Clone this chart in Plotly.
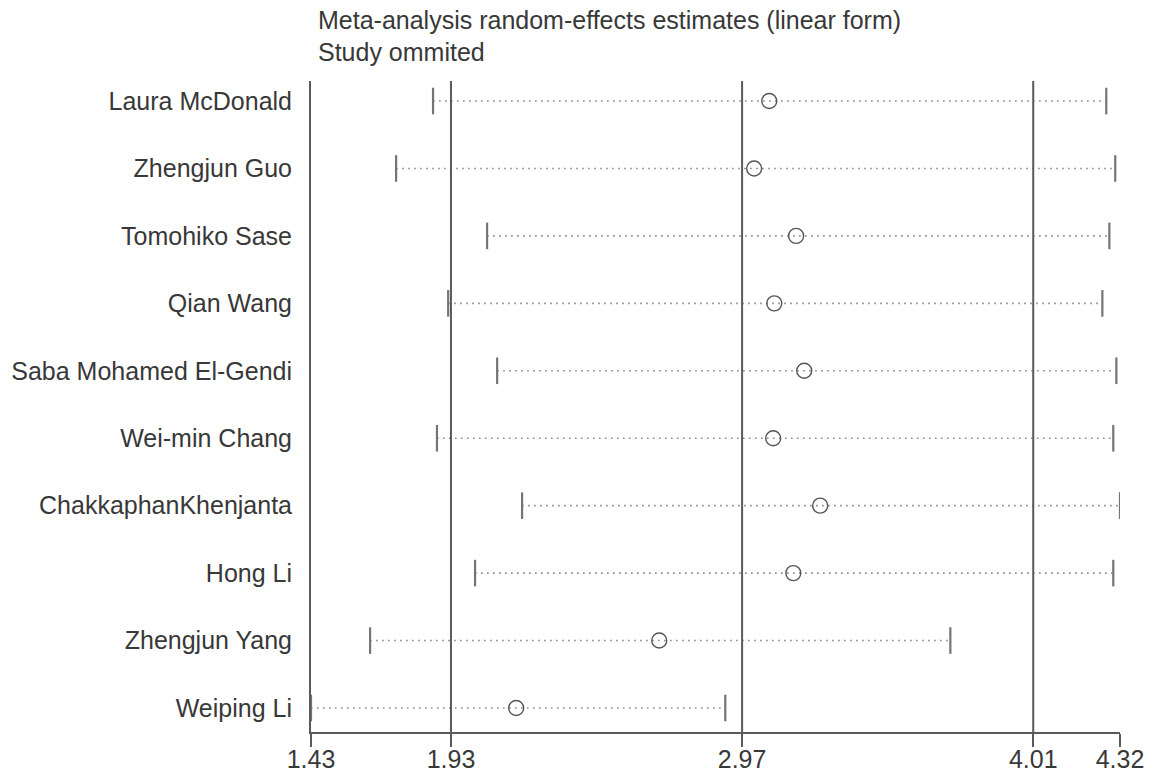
import plotly.graph_objects as go

studies = ["Laura McDonald", "Zhengjun Guo", "Tomohiko Sase", "Qian Wang",
           "Saba Mohamed El-Gendi", "Wei-min Chang", "ChakkaphanKhenjanta",
           "Hong Li", "Zhengjun Yang", "Weiping Li"]
estimate = [3.067, 3.013, 3.163, 3.085, 3.192, 3.081, 3.249, 3.153, 2.674, 2.163]
lower = [1.866, 1.734, 2.059, 1.920, 2.095, 1.880, 2.184, 2.016, 1.641, 1.43]
upper = [4.271, 4.303, 4.282, 4.257, 4.307, 4.296, 4.32, 4.296, 3.714, 2.910]
tick_vals = [1.43, 1.93, 2.97, 4.01, 4.32]
tick_text = ["1.43", "1.93", "2.97", "4.01", "4.32"]
ref_lines = [1.93, 2.97, 4.01]
title_lines = ["Meta-analysis random-effects estimates (linear form)", "Study ommited"]

ypos = list(range(len(studies)))
FONT = "Liberation Sans, Arial, sans-serif"
TXT = "#383838"
AX = "#5a5a5a"
DOT = "#8a8a8a"

fig = go.Figure()

# dotted CI lines
for i in ypos:
    fig.add_trace(go.Scatter(
        x=[lower[i], upper[i]], y=[i, i], mode="lines",
        line=dict(color=DOT, width=1.6, dash="1.6px,4.4px"),
        hoverinfo="skip", showlegend=False))

# caps
fig.add_trace(go.Scatter(
    x=lower + upper, y=ypos + ypos, mode="markers",
    marker=dict(symbol="line-ns", size=19, line=dict(color="#747474", width=2.2)),
    hoverinfo="skip", showlegend=False))

# point estimates
fig.add_trace(go.Scatter(
    x=estimate, y=ypos, mode="markers",
    marker=dict(symbol="circle-open", size=15, color="#555555", line=dict(width=1.4)),
    showlegend=False))

for v in ref_lines:
    fig.add_shape(type="line", xref="x", yref="paper", x0=v, x1=v, y0=0, y1=1,
                  line=dict(color=AX, width=2), layer="above")

fig.update_xaxes(range=[1.43, 4.32], tickvals=tick_vals, ticktext=tick_text,
                 showgrid=False, zeroline=False, showline=True, linecolor=AX,
                 linewidth=2, ticks="outside", ticklen=13, tickwidth=2,
                 tickcolor=AX, ticklabelstandoff=-9,
                 tickfont=dict(family=FONT, size=25, color=TXT))
fig.update_yaxes(range=[len(studies) - 1 + 0.356, -0.297], tickvals=ypos,
                 ticktext=studies, showgrid=False, zeroline=False,
                 showline=True, linecolor=AX, linewidth=2, ticks="",
                 ticklabelstandoff=12,
                 tickfont=dict(family=FONT, size=25, color=TXT))

fig.add_annotation(text=title_lines[0], xref="paper", yref="paper", x=0, y=1,
                   xanchor="left", yanchor="middle", xshift=5, yshift=61,
                   showarrow=False, font=dict(family=FONT, size=25, color=TXT))
fig.add_annotation(text=title_lines[1], xref="paper", yref="paper", x=0, y=1,
                   xanchor="left", yanchor="middle", xshift=5, yshift=29,
                   showarrow=False, font=dict(family=FONT, size=25, color=TXT))

fig.update_layout(width=1158, height=773, plot_bgcolor="white", paper_bgcolor="white",
                  margin=dict(l=311, r=38, t=81, b=41, autoexpand=False))

fig.write_html("out.html")
